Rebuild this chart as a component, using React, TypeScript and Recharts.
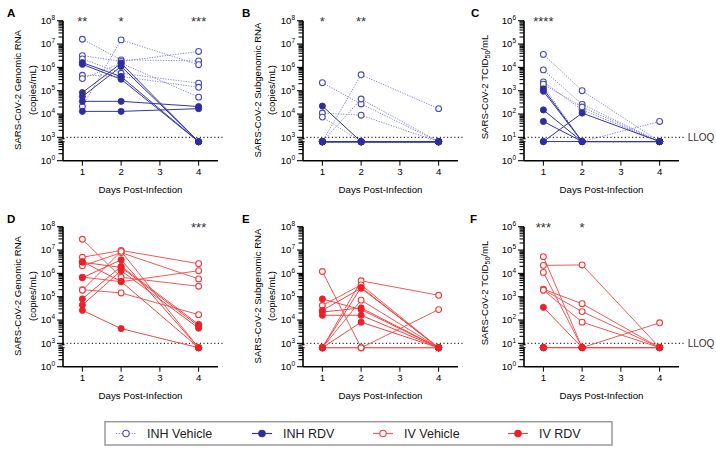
import React from 'react';
import { LineChart, Line, XAxis, YAxis, ReferenceLine, ReferenceDot } from 'recharts';

// ---------- data ----------
const days = [1, 2, 4];
const dayTicks = [1, 2, 3, 4];

const rnaMajorTicks = [1e3, 1e4, 1e5, 1e6, 1e7, 1e8];
const tcidMajorTicks = [1e1, 1e2, 1e3, 1e4, 1e5, 1e6];
const rnaAxisBottom = 1e2; // shown as 10^0 below the axis break
const tcidAxisBottom = 1;
const minorMultipliers = [2, 3, 4, 5, 6, 7, 8, 9];

const rnaLLOQ = 1e3;
const tcidLLOQ = 1e1;
const R = 650; // RNA value below LLOQ
const T = 6.6; // TCID50 value below LLOQ

// Panel A: genomic RNA, INH
const aInhVehicle = [
  [1.6e7, 2.1e6, 1.9e6],
  [3.2e6, 1.8e6, 4.8e6],
  [2.3e6, 5.6e5, 2.1e5],
  [2.1e4, 1.5e7, 1.3e6],
  [4.6e5, 4.1e5, 1.4e5],
  [3.3e5, 1.5e6, 5.3e4],
];
const aInhRdv = [
  [1.6e6, 4.0e5, R],
  [1.35e6, 3.1e5, R],
  [8.3e4, 1.5e6, R],
  [5.6e4, 1.1e6, R],
  [3.5e4, 3.5e4, 2.1e4],
  [1.3e4, 1.3e4, 1.7e4],
];
// Panel B: subgenomic RNA, INH
const bInhVehicle = [
  [2.2e5, 2.7e4, R],
  [R, 4.8e5, 1.7e4],
  [1.1e4, 8.9e3, R],
  [R, 4.4e4, R],
  [7.4e3, R, R],
  [R, R, R],
];
const bInhRdv = [
  [2.2e4, R, R],
  [R, R, R],
  [R, R, R],
  [R, R, R],
  [R, R, R],
  [R, R, R],
];
// Panel C: TCID50, INH
const cInhVehicle = [
  [3.6e4, 1.0e3, T],
  [7.8e3, 2.6e2, T],
  [2.4e3, 1.5e2, T],
  [1.6e3, T, 48],
  [1.9e3, 2.0e2, T],
];
const cInhRdv = [
  [1.2e3, T, T],
  [9.5e2, T, T],
  [1.5e2, T, T],
  [48, T, T],
  [T, 1.1e2, T],
  [T, T, T],
];
// Panel D: genomic RNA, IV
const dIvVehicle = [
  [2.9e7, 6.8e5, 2.8e5],
  [4.9e6, 9.6e6, 2.6e6],
  [2.1e6, 7.7e6, 5.8e5],
  [6.9e5, 4.4e5, 1.3e6],
  [2.0e5, 1.45e5, 1.7e4],
  [1.9e5, 8.8e6, R],
];
const dIvRdv = [
  [3.2e6, 4.5e5, R],
  [6.5e5, 3.8e6, R],
  [8.0e4, 2.0e6, 6.5e3],
  [4.4e4, 1.3e6, 4.5e3],
  [2.6e4, 4.3e3, R],
  [3.0e6, 1.8e6, 5.5e3],
];
// Panel E: subgenomic RNA, IV
const eIvVehicle = [
  [1.2e6, R, R],
  [R, 4.8e5, 1.15e5],
  [4.2e4, 3.2e5, R],
  [R, 7.1e4, R],
  [R, R, 2.8e4],
  [R, R, R],
];
const eIvRdv = [
  [8.0e4, 2.8e4, R],
  [2.6e4, 2.3e5, R],
  [2.2e4, 3.3e4, R],
  [1.6e4, 1.6e4, R],
  [R, 8.1e3, R],
  [R, 2.5e5, R],
];
// Panel F: TCID50, IV
const fIvVehicle = [
  [5.2e4, T, T],
  [2.2e4, 2.3e4, T],
  [1.1e4, T, 76],
  [2.1e3, 5.0e2, T],
  [2.0e3, 2.3e2, T],
  [1.9e3, 81, T],
];
const fIvRdv = [
  [3.5e2, T, T],
  [T, T, T],
  [T, T, T],
  [T, T, T],
  [T, T, T],
  [T, T, T],
];

const aStars = [{ day: 1, text: '**' }, { day: 2, text: '*' }, { day: 4, text: '***' }];
const bStars = [{ day: 1, text: '*' }, { day: 2, text: '**' }];
const cStars = [{ day: 1, text: '****' }];
const dStars = [{ day: 4, text: '***' }];
const eStars: { day: number; text: string }[] = [];
const fStars = [{ day: 1, text: '***' }, { day: 2, text: '*' }];

const legendLabels = ['INH Vehicle', 'INH RDV', 'IV Vehicle', 'IV RDV'];

// ---------- styles ----------
const FONT = '"Liberation Sans", Arial, Helvetica, sans-serif';
const COLORS = {
  INH: { fill: '#2d2da0', open: '#4a4abf', vehLine: '#8484d4', rdvLine: '#3535a8' },
  IV: { fill: '#ee1f26', open: '#f03c3c', vehLine: '#f25a5a', rdvLine: '#f04848' },
};

const PLOT_LEFT = 63;
const PLOT_W = 155;
const PLOT_TOP = 20.7;
const CHART_H = 200;

type Panel = {
  letter: string;
  left: number;
  top: number;
  width: number;
  kind: 'rna' | 'tcid';
  route: 'INH' | 'IV';
  vehicle: number[][];
  rdv: number[][];
  stars: { day: number; text: string }[];
  yTitle: string[];
  letterX: number;
  titleOffsets: number[];
  titleCy: number;
};

const panels: Panel[] = [
  { letter: 'A', left: 0, top: 0, width: 240, kind: 'rna', route: 'INH', vehicle: aInhVehicle, rdv: aInhRdv, stars: aStars, yTitle: ['SARS-CoV-2 Genomic RNA', '(copies/mL)'], letterX: 7, titleOffsets: [-46, -31], titleCy: 90 },
  { letter: 'B', left: 240, top: 0, width: 240, kind: 'rna', route: 'INH', vehicle: bInhVehicle, rdv: bInhRdv, stars: bStars, yTitle: ['SARS-CoV-2 Subgenomic RNA', '(copies/mL)'], letterX: 242, titleOffsets: [-46, -32], titleCy: 90 },
  { letter: 'C', left: 461, top: 0, width: 255, kind: 'tcid', route: 'INH', vehicle: cInhVehicle, rdv: cInhRdv, stars: cStars, yTitle: ['TCID'], letterX: 471, titleOffsets: [-40], titleCy: 87 },
  { letter: 'D', left: 0, top: 206, width: 240, kind: 'rna', route: 'IV', vehicle: dIvVehicle, rdv: dIvRdv, stars: dStars, yTitle: ['SARS-CoV-2 Genomic RNA', '(copies/mL)'], letterX: 7, titleOffsets: [-46, -31], titleCy: 90 },
  { letter: 'E', left: 240, top: 206, width: 240, kind: 'rna', route: 'IV', vehicle: eIvVehicle, rdv: eIvRdv, stars: eStars, yTitle: ['SARS-CoV-2 Subgenomic RNA', '(copies/mL)'], letterX: 242, titleOffsets: [-46, -32], titleCy: 90 },
  { letter: 'F', left: 461, top: 206, width: 255, kind: 'tcid', route: 'IV', vehicle: fIvVehicle, rdv: fIvRdv, stars: fStars, yTitle: ['TCID'], letterX: 470, titleOffsets: [-40], titleCy: 87 },
];

function buildRows(vehicle: number[][], rdv: number[][]) {
  return days.map((d, i) => {
    const row: any = { day: d };
    vehicle.forEach((a, j) => (row['v' + j] = a[i]));
    rdv.forEach((a, j) => (row['r' + j] = a[i]));
    return row;
  });
}

function buildTicks(bottom: number, majors: number[]) {
  const decades = [bottom, ...majors.slice(0, -1)];
  const minors: number[] = [];
  decades.forEach((d) => minorMultipliers.forEach((m) => minors.push(m * d)));
  return [bottom, ...majors, ...minors];
}

function YTick(props: any) {
  const { x, y, payload, bottom, lloq } = props;
  const v = payload.value;
  const lg = Math.log10(v);
  const major = Math.abs(lg - Math.round(lg)) < 1e-9;
  if (!major && v < lloq && v > lloq * 0.75) return null;
  const exp = v === bottom ? 0 : Math.round(lg);
  return (
    <g>
      <line x1={x - (major ? 6 : 4.5)} x2={x} y1={y} y2={y} stroke="#000" strokeWidth={1.1} />
      {major && (
        <text x={x - 8} y={y + 3.4} textAnchor="end" fontSize={9.6} fill="#000" fontFamily={FONT}>
          <tspan>10</tspan>
          <tspan dy={-4} fontSize={6.5}>{exp}</tspan>
        </text>
      )}
      {v === lloq && (
        <g>
          <rect x={x - 1.6} y={y + 1.6} width={3.2} height={3.4} fill="#fff" />
          <line x1={x - 4.5} y1={y + 2.1} x2={x + 1.5} y2={y + 1.3} stroke="#000" strokeWidth={1.3} />
          <line x1={x - 4.5} y1={y + 5.1} x2={x + 1.5} y2={y + 4.3} stroke="#000" strokeWidth={1.3} />
        </g>
      )}
    </g>
  );
}

function openDot(color: string) {
  return (p: any) =>
    p.cx == null || p.cy == null ? (
      <g key={`${p.dataKey}-${p.index}`} />
    ) : (
      <circle key={`${p.dataKey}-${p.index}`} cx={p.cx} cy={p.cy} r={2.9} fill="#fff" stroke={color} strokeWidth={1.1} />
    );
}
function filledDot(color: string) {
  return (p: any) =>
    p.cx == null || p.cy == null ? (
      <g key={`${p.dataKey}-${p.index}`} />
    ) : (
      <circle key={`${p.dataKey}-${p.index}`} cx={p.cx} cy={p.cy} r={3.1} fill={color} stroke={color} strokeWidth={0.8} />
    );
}

function PanelChart({ p }: { p: Panel }) {
  const rna = p.kind === 'rna';
  const bottom = rna ? rnaAxisBottom : tcidAxisBottom;
  const majors = rna ? rnaMajorTicks : tcidMajorTicks;
  const top = majors[majors.length - 1];
  const lloq = rna ? rnaLLOQ : tcidLLOQ;
  const ticks = buildTicks(bottom, majors);
  const rows = buildRows(p.vehicle, p.rdv);
  const c = COLORS[p.route];
  const inh = p.route === 'INH';
  return (
    <div style={{ position: 'absolute', left: p.left, top: p.top }}>
      <LineChart
        width={p.width}
        height={CHART_H}
        data={rows}
        margin={{ top: PLOT_TOP, right: p.width - PLOT_LEFT - PLOT_W, bottom: CHART_H - PLOT_TOP - 140 - 30, left: 0 }}
      >
        <XAxis
          type="number"
          dataKey="day"
          domain={[0.5, 4.5]}
          ticks={dayTicks}
          interval={0}
          allowDataOverflow
          height={30}
          tickSize={5}
          tickMargin={2}
          tick={{ fontSize: 9.7, fill: '#000', fontFamily: FONT }}
          axisLine={{ stroke: '#000', strokeWidth: 1.5 }}
          tickLine={{ stroke: '#000', strokeWidth: 1 }}
        />
        <YAxis
          type="number"
          scale="log"
          domain={[bottom, top]}
          allowDataOverflow
          ticks={ticks}
          interval={0}
          width={PLOT_LEFT}
          tickSize={0}
          tickMargin={0}
          tickLine={false}
          axisLine={{ stroke: '#000', strokeWidth: 1.6 }}
          tick={<YTick bottom={bottom} lloq={lloq} />}
        />
        <ReferenceLine
          segment={[{ x: 0.5, y: lloq }, { x: 4.62, y: lloq }]}
          ifOverflow="visible"
          stroke="#333"
          strokeWidth={1.2}
          strokeDasharray="1.2 2.4"
          label={rna ? undefined : { value: 'LLOQ', position: 'right', fill: '#333', fontSize: 10, fontFamily: FONT, offset: 4 }}
        />
        {p.vehicle.map((_, j) => (
          <Line
            key={'v' + j}
            dataKey={'v' + j}
            type="linear"
            stroke={c.vehLine}
            strokeWidth={1}
            strokeDasharray={inh ? '1.2 1.4' : undefined}
            dot={openDot(c.open)}
            activeDot={false}
            isAnimationActive={false}
          />
        ))}
        {p.rdv.map((_, j) => (
          <Line
            key={'r' + j}
            dataKey={'r' + j}
            type="linear"
            stroke={c.rdvLine}
            strokeWidth={1}
            dot={filledDot(c.fill)}
            activeDot={false}
            isAnimationActive={false}
          />
        ))}
        {p.stars.map((s, k) => (
          <ReferenceDot
            key={'s' + k}
            x={s.day}
            y={top}
            ifOverflow="visible"
            shape={(sp: any) => (
              <text x={sp.cx} y={sp.cy + 5.7} textAnchor="middle" fontSize={13} fill="#333" fontFamily={FONT}>
                {s.text}
              </text>
            )}
          />
        ))}
      </LineChart>
    </div>
  );
}

function Overlay() {
  const legendX = [116, 252, 373, 508];
  const legendStyles = [
    { color: COLORS.INH.open, line: COLORS.INH.vehLine, filled: false, dash: '1.2 1.4' },
    { color: COLORS.INH.fill, line: COLORS.INH.rdvLine, filled: true, dash: undefined },
    { color: COLORS.IV.open, line: COLORS.IV.vehLine, filled: false, dash: undefined },
    { color: COLORS.IV.fill, line: COLORS.IV.rdvLine, filled: true, dash: undefined },
  ];
  return (
    <svg width={716} height={456} style={{ position: 'absolute', left: 0, top: 0, pointerEvents: 'none' }} fontFamily={FONT}>
      {panels.map((p) => {
        const axisX = p.left + PLOT_LEFT;
        const cy = p.top + p.titleCy;
        return (
          <g key={p.letter}>
            <text x={p.letterX} y={p.top + 16.5} fontSize={11.5} fontWeight="bold" fill="#000">{p.letter}</text>
            {p.kind === 'rna'
              ? p.yTitle.map((t, i) => (
                  <text
                    key={i}
                    x={axisX + p.titleOffsets[i]}
                    y={cy}
                    transform={`rotate(-90 ${axisX + p.titleOffsets[i]} ${cy})`}
                    textAnchor="middle"
                    dominantBaseline="central"
                    fontSize={9.6}
                    fill="#000"
                  >
                    {t}
                  </text>
                ))
              : (
                  <text
                    x={axisX + p.titleOffsets[0]}
                    y={cy}
                    transform={`rotate(-90 ${axisX + p.titleOffsets[0]} ${cy})`}
                    textAnchor="middle"
                    dominantBaseline="central"
                    fontSize={9.6}
                    fill="#000"
                  >
                    <tspan>SARS-CoV-2 TCID</tspan>
                    <tspan dy={2.5} fontSize={7}>50</tspan>
                    <tspan dy={-2.5}>/mL</tspan>
                  </text>
                )}
            <text x={axisX + PLOT_W / 2} y={p.top + 192.5} textAnchor="middle" fontSize={9.7} fill="#000">
              Days Post-Infection
            </text>
          </g>
        );
      })}
      <rect x={105} y={421.7} width={507} height={23.3} fill="none" stroke="#9a9a9a" strokeWidth={1.5} />
      {legendLabels.map((label, i) => {
        const s = legendStyles[i];
        const x = legendX[i];
        return (
          <g key={label}>
            <line x1={x} x2={x + 20} y1={433.5} y2={433.5} stroke={s.line} strokeWidth={1.2} strokeDasharray={s.dash} />
            <circle cx={x + 10} cy={433.5} r={3.2} fill={s.filled ? s.color : '#fff'} stroke={s.color} strokeWidth={1.1} />
            <text x={x + 31} y={438} fontSize={12.5} fill="#222">{label}</text>
          </g>
        );
      })}
    </svg>
  );
}

export default function App() {
  return (
    <div style={{ position: 'absolute', left: 0, top: 0, width: 716, height: 456, background: '#fff', fontFamily: FONT, overflow: 'hidden' }}>
      {panels.map((p) => (
        <PanelChart key={p.letter} p={p} />
      ))}
      <Overlay />
    </div>
  );
}
